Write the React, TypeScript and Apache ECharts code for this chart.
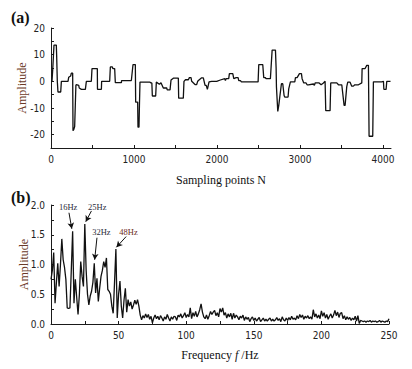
import React, { useEffect, useRef } from "react";
import * as echarts from "echarts";

// (a) time-domain signal: sampling index and amplitude (step-like trace)
const sampleN = [
  0, 12, 20, 30, 36, 64, 68, 76, 84, 117, 125, 205, 213, 237, 245, 261, 265, 275, 285, 300,
  305, 334, 340, 366, 414, 426, 486, 494, 558, 560, 607, 610, 707, 715, 739, 745, 767, 775, 848, 850,
  968, 988, 1016, 1020, 1044, 1048, 1060, 1066, 1072, 1193, 1205, 1215, 1221, 1261, 1269, 1301, 1310, 1325, 1353, 1394,
  1400, 1434, 1446, 1474, 1534, 1538, 1594, 1602, 1620, 1655, 1667, 1687, 1695, 1735, 1755, 1767, 1783, 1815, 1835, 1856,
  1870, 1884, 1904, 1936, 1996, 2040, 2093, 2101, 2109, 2141, 2149, 2190, 2202, 2230, 2254, 2262, 2282, 2294, 2495, 2503,
  2551, 2563, 2583, 2590, 2643, 2664, 2704, 2712, 2716, 2732, 2744, 2756, 2776, 2792, 2808, 2816, 2856, 2864, 2884, 2937,
  2945, 2965, 2993, 3017, 3025, 3045, 3073, 3085, 3101, 3161, 3173, 3182, 3230, 3254, 3282, 3302, 3310, 3362, 3370, 3443,
  3463, 3503, 3531, 3543, 3563, 3575, 3603, 3623, 3643, 3660, 3704, 3744, 3748, 3784, 3804, 3824, 3832, 3876, 3884, 3985,
  4005, 4010, 4037, 4045, 4090,
];
const sampleAmp = [
  0, 0, 4, 10, 13.6, 13.6, 9.8, 0, -4, -4, 0, 0, 1.5, 2, 3.1, 3.1, -18.5, -18, -17, -1.5,
  -1.25, -1.5, -2.5, -3, -3, 0, 0, 4.8, 4.8, -3, -3, 0, 0, 5.4, 5.4, 4.8, 4.8, -0.5, -0.5, 0.3,
  0.3, 6.3, 6.3, -7.8, -7.8, -17.2, -17.2, -8, -0.3, -0.3, -0.6, -0.6, -5.5, -5.5, -0.3, -1, -1, -0.5, -2.5, -2.5,
  -3.2, -3.2, 0.5, 1.2, 1.2, -6.3, -6.3, 0, 0.6, 0.6, 1.4, 1.4, 0, -1.2, -1.2, 0, 0.5, 1.3, 1.3, -1.5,
  -1.5, -3, -0.2, 0, 0, 0.5, 1.0, 0.3, 1.0, 1.0, 2.9, 2.9, 1.0, 1.4, 1.4, 0.3, 0.3, -0.2, -0.2, 6.3,
  6.3, 1.4, 1.4, 1.0, 1.0, 11.7, 11.7, 5, -2.1, -11.3, -9, -5.9, -0.9, -0.9, -5.3, -5.9, -5.9, -2.8, -0.2, -0.2,
  1.4, 1.4, 2.9, 2.9, 1.0, -0.6, -0.6, -1.3, -1.3, -1.0, -1.5, -0.6, -0.6, -1.3, -0.6, 0, -11, -11, -0.6, -0.6,
  -1.3, -1.3, -9, -9, -2, -0.3, -0.3, -1.8, -1.8, -1.3, -1.3, -0.6, 4.8, 4.8, 6, 6, -20.6, -20.6, -0.2, -0.2,
  0, -3, -3, 0, 0,
];

// (b) amplitude spectrum, 1 Hz resolution from 0 Hz to 250 Hz
const freqStepHz = 1;
const spectrumAmp = [
  0.75, 0.9, 1.2, 0.35, 0.7, 1.02, 0.63, 1.0, 1.43, 1.08,
  0.95, 0.75, 0.27, 0.26, 0.27, 0.9, 1.56, 0.35, 0.75, 0.45,
  0.16, 0.5, 1.05, 0.8, 0.63, 1.68, 0.9, 0.5, 0.32, 0.47,
  0.55, 0.7, 1.02, 0.52, 0.77, 0.38, 0.6, 0.8, 0.9, 1.05,
  0.95, 1.11, 0.58, 0.55, 0.5, 0.3, 0.18, 0.7, 1.26, 0.1,
  0.5, 0.72, 0.3, 0.1, 0.4, 0.6, 0.2, 0.41, 0.3, 0.37,
  0.25, 0.32, 0.4, 0.33, 0.41, 0.3, 0.15, 0.07, 0.14, 0.1,
  0.17, 0.11, 0.16, 0.08, 0.13, 0.02, 0.1, 0.15, 0.09, 0.13,
  0.07, 0.14, 0.1, 0.05, 0.12, 0.08, 0.16, 0.1, 0.05, 0.12,
  0.08, 0.13, 0.12, 0.06, 0.15, 0.12, 0.17, 0.1, 0.14, 0.19,
  0.11, 0.16, 0.12, 0.27, 0.09, 0.19, 0.13, 0.21, 0.12, 0.17,
  0.24, 0.34, 0.2, 0.12, 0.09, 0.15, 0.08, 0.14, 0.21, 0.16,
  0.2, 0.23, 0.14, 0.19, 0.12, 0.26, 0.2, 0.27, 0.15, 0.19,
  0.1, 0.17, 0.12, 0.18, 0.08, 0.18, 0.1, 0.15, 0.12, 0.07,
  0.13, 0.1, 0.15, 0.06, 0.12, 0.08, 0.11, 0.04, 0.09, 0.12,
  0.06, 0.1, 0.05, 0.08, 0.11, 0.04, 0.07, 0.1, 0.05, 0.08,
  0.05, 0.08, 0.1, 0.05, 0.08, 0.05, 0.07, 0.11, 0.06, 0.09,
  0.04, 0.12, 0.07, 0.05, 0.1, 0.06, 0.11, 0.07, 0.13, 0.08,
  0.1, 0.07, 0.14, 0.09, 0.16, 0.11, 0.15, 0.08, 0.13, 0.1,
  0.14, 0.09, 0.12, 0.08, 0.24, 0.12, 0.17, 0.1, 0.15, 0.09,
  0.22, 0.13, 0.19, 0.1, 0.16, 0.08, 0.13, 0.17, 0.1, 0.15,
  0.23, 0.14, 0.2, 0.11, 0.18, 0.19, 0.09, 0.14, 0.07, 0.12,
  0.08, 0.11, 0.06, 0.1, 0.07, 0.13, 0.05, 0.14, 0.01, 0.06,
  0.05, 0.04, 0.05, 0.03, 0.05, 0.04, 0.06, 0.03, 0.05, 0.04,
  0.05, 0.03, 0.04, 0.06, 0.03, 0.05, 0.04, 0.03, 0.05, 0.04,
  0.09,
];

// annotated peaks
const peakNames = ["16Hz", "25Hz", "32Hz", "48Hz"];
const peakLabelAt = [[12.7, 1.96], [34.2, 1.97], [37.3, 1.55], [57.3, 1.55]];
const peakArrowFrom = [[13.3, 1.87], [29.9, 1.9], [34.0, 1.45], [55.6, 1.47]];
const peakArrowTo = [[15.4, 1.6], [25.7, 1.72], [32.3, 1.08], [48.4, 1.29]];
const peakColors = ["#2b2b3a", "#2b2b3a", "#2b2b3a", "#6a2a22"];

const NUM_FONT = "'Liberation Sans Narrow', 'DejaVu Sans Condensed', 'Liberation Sans', sans-serif";
const SERIF = "'Liberation Serif', 'DejaVu Serif', serif";
const AXIS_COLOR = "#1a1a1a";
const TITLE_COLOR = "#6b3a28";

export default function App() {
  const ref = useRef<HTMLDivElement>(null);

  useEffect(() => {
    if (!ref.current) return;
    const chart = echarts.init(ref.current, undefined, { renderer: "svg" });

    const timeData = sampleN.map((n, i) => [n, sampleAmp[i]]);
    const specData = spectrumAmp.map((a, i) => [i * freqStepHz, a]);

    const axisCommon = {
      axisLine: { show: true, onZero: false, lineStyle: { color: AXIS_COLOR, width: 1 } },
      axisTick: { show: true, inside: true, length: 3, lineStyle: { color: AXIS_COLOR } },
      splitLine: { show: false },
      axisLabel: { fontFamily: NUM_FONT, fontSize: 10, color: "#222", margin: 6 },
    };

    const option: any = {
      animation: false,
      backgroundColor: "#ffffff",
      grid: [
        { left: 51, top: 28, right: 21, bottom: 221 },
        { left: 51, top: 205, right: 23, bottom: 45 },
      ],
      xAxis: [
        {
          ...axisCommon,
          type: "value",
          gridIndex: 0,
          min: 0,
          max: 4096,
          interval: 500,
          axisLabel: {
            ...axisCommon.axisLabel,
            showMaxLabel: false,
            formatter: (v: number) => (v % 1000 === 0 ? String(v) : ""),
          },
          name: "Sampling points N",
          nameLocation: "middle",
          nameGap: 26,
          nameMoveOverlap: false,
          nameTextStyle: { fontFamily: SERIF, fontSize: 12, color: "#111" },
        },
        {
          ...axisCommon,
          type: "value",
          gridIndex: 1,
          min: 0,
          max: 250,
          interval: 25,
          axisLabel: {
            ...axisCommon.axisLabel,
            formatter: (v: number) => (v % 50 === 0 ? String(v) : ""),
          },
          name: "{n|Frequency }{i|f}{n| /Hz}",
          nameLocation: "middle",
          nameGap: 25,
          nameMoveOverlap: false,
          nameTextStyle: {
            rich: {
              n: { fontFamily: SERIF, fontSize: 12, color: "#111" },
              i: { fontFamily: SERIF, fontSize: 12, color: "#111", fontStyle: "italic" },
            },
          },
        },
      ],
      yAxis: [
        {
          ...axisCommon,
          type: "value",
          gridIndex: 0,
          min: -25,
          max: 20,
          interval: 5,
          axisLabel: {
            ...axisCommon.axisLabel,
            formatter: (v: number) => (v % 10 === 0 ? String(v) : ""),
          },
          name: "Amplitude",
          nameLocation: "middle",
          nameGap: 23,
          nameMoveOverlap: false,
          nameTextStyle: { fontFamily: SERIF, fontSize: 12, color: TITLE_COLOR },
        },
        {
          ...axisCommon,
          type: "value",
          gridIndex: 1,
          min: 0,
          max: 2,
          interval: 0.25,
          axisLabel: {
            ...axisCommon.axisLabel,
            formatter: (v: number) => (Math.abs(v * 2 - Math.round(v * 2)) < 1e-6 ? v.toFixed(1) : ""),
          },
          name: "Amplitude",
          nameLocation: "middle",
          nameGap: 21,
          nameMoveOverlap: false,
          nameTextStyle: { fontFamily: SERIF, fontSize: 12, color: TITLE_COLOR },
        },
      ],
      series: [
        {
          type: "line",
          xAxisIndex: 0,
          yAxisIndex: 0,
          data: timeData,
          showSymbol: false,
          symbol: "none",
          lineStyle: { color: "#111", width: 1.3 },
        },
        {
          type: "line",
          xAxisIndex: 1,
          yAxisIndex: 1,
          data: specData,
          showSymbol: false,
          symbol: "none",
          lineStyle: { color: "#111", width: 1.3 },
          markLine: {
            silent: true,
            symbol: ["none", "arrow"],
            symbolSize: [5, 6],
            label: { show: false },
            lineStyle: { color: "#111", width: 1, type: "solid" },
            data: peakArrowFrom.map((p, i) => [{ coord: p }, { coord: peakArrowTo[i] }]),
          },
          markPoint: {
            silent: true,
            symbol: "circle",
            symbolSize: 0,
            data: peakNames.map((name, i) => ({
              name,
              coord: peakLabelAt[i],
              label: {
                show: true,
                position: "inside",
                formatter: name,
                fontFamily: SERIF,
                fontSize: 8.5,
                color: peakColors[i],
              },
            })),
          },
        },
      ],
      graphic: [
        {
          type: "text",
          left: 11,
          top: 9,
          style: { text: "(a)", fontFamily: SERIF, fontSize: 16, fontWeight: "bold", fill: "#111" },
        },
        {
          type: "text",
          left: 11,
          top: 189,
          style: { text: "(b)", fontFamily: SERIF, fontSize: 16, fontWeight: "bold", fill: "#111" },
        },
      ],
    };

    chart.setOption(option);
    return () => chart.dispose();
  }, []);

  return (
    <div
      ref={ref}
      style={{ position: "fixed", left: 0, top: 0, width: 412, height: 369, background: "#fff" }}
    />
  );
}
